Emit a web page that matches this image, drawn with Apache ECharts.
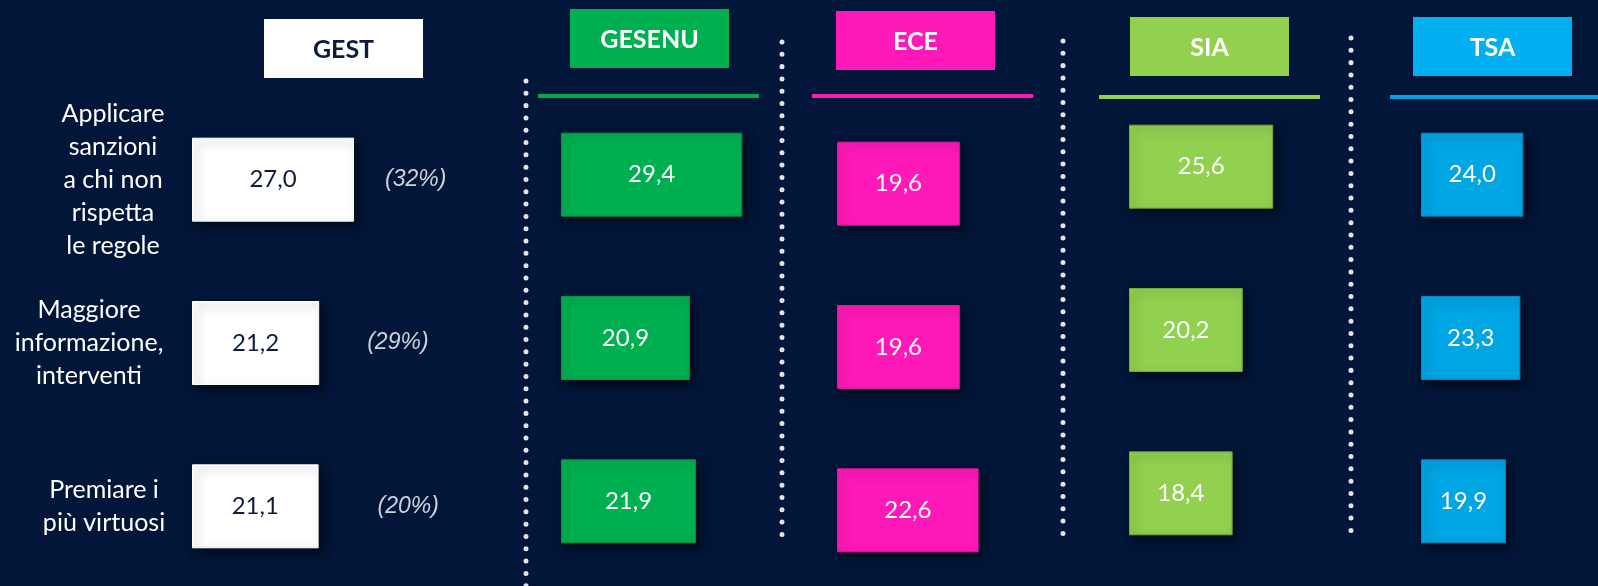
<!DOCTYPE html>
<html>
<head>
<meta charset="utf-8">
<script src="https://cdn.jsdelivr.net/npm/echarts@6/dist/echarts.min.js"></script>
<style>
  html, body { margin: 0; padding: 0; background: #011638; }
  #chart { width: 1598px; height: 586px; }
</style>
</head>
<body>
<div id="chart"></div>
<script>
// data
const categories = [
  'Applicare\nsanzioni\na chi non\nrispetta\nle regole',
  'Maggiore\ninformazione,\ninterventi',
  'Premiare i\npiù virtuosi'
];
const companies = ['GEST', 'GESENU', 'ECE', 'SIA', 'TSA'];
const gestValues = [27.0, 21.2, 21.1];
const gestShares = ['(32%)', '(29%)', '(20%)'];
const gesenuValues = [29.4, 20.9, 21.9];
const eceValues = [19.6, 19.6, 22.6];
const siaValues = [25.6, 20.2, 18.4];
const tsaValues = [24.0, 23.3, 19.9];

// layout of each panel (bar start, scale width for 0..30, band top)
const panels = [
  { values: gestValues, left: 192, width: 180, top: 98, bar: '#ffffff', border: '#ffffff', label: '#0e1b3d',
    head: { x: 264, y: 19, fill: '#ffffff', text: '#0e1b3d' } },
  { values: gesenuValues, left: 561, width: 185, top: 93, bar: '#00b050', border: '#00934a', label: '#ffffff',
    head: { x: 570, y: 9, fill: '#00b050', text: '#ffffff' }, line: { x1: 538, x2: 759, y: 96, color: '#00a84f' } },
  { values: eceValues, left: 837, width: 188, top: 102, bar: '#ff19b8', border: '#e0149f', label: '#ffffff',
    head: { x: 836, y: 11, fill: '#ff19b8', text: '#ffffff' }, line: { x1: 812, x2: 1033, y: 96, color: '#ff19b8' } },
  { values: siaValues, left: 1129, width: 169, top: 85, bar: '#92d050', border: '#6fa83c', label: '#ffffff',
    head: { x: 1130, y: 17, fill: '#92d050', text: '#ffffff' }, line: { x1: 1099, x2: 1320, y: 97, color: '#92d050' } },
  { values: tsaValues, left: 1421, width: 128, top: 93, bar: '#00a5e3', border: '#0086c0', label: '#ffffff',
    head: { x: 1413, y: 17, fill: '#00b0f0', text: '#ffffff' }, line: { x1: 1390, x2: 1598, y: 97, color: '#00a0e0' } }
];

const dotLines = [
  { x: 526, y1: 81, y2: 590 },
  { x: 782, y1: 42, y2: 545 },
  { x: 1063, y1: 41, y2: 544 },
  { x: 1351, y1: 38, y2: 541 }
];

const fmt = v => v.toFixed(1).replace('.', ',');

const grid = [], xAxis = [], yAxis = [], series = [], graphic = [];

// category labels: each block centred at its own x, anchored right of GEST bars
const labelWidths = [138, 186, 156];
const rich = {};
labelWidths.forEach((w, i) => {
  rich['c' + i] = { width: w, align: 'center', fontSize: 25, lineHeight: 33, color: '#ffffff', fontFamily: 'Lato' };
});

panels.forEach((p, i) => {
  grid.push({ left: p.left, width: p.width, top: p.top, height: 490, outerBoundsMode: 'none', containLabel: false });
  xAxis.push({ type: 'value', gridIndex: i, min: 0, max: 30, show: false });
  yAxis.push({
    type: 'category', gridIndex: i, data: categories, inverse: true,
    axisLine: { show: false }, axisTick: { show: false }, splitLine: { show: false },
    axisLabel: i === 0 ? {
      show: true, interval: 0, align: 'right', margin: 10,
      formatter: (val, idx) => val.split('\n').map(l => '{c' + idx + '|' + l + '}').join('\n'),
      rich: rich
    } : { show: false }
  });
  series.push({
    type: 'bar', xAxisIndex: i, yAxisIndex: i, data: p.values, barWidth: 84,
    itemStyle: {
      color: p.bar, borderColor: p.border, borderWidth: 1,
      shadowBlur: 10, shadowColor: 'rgba(0,0,0,0.55)', shadowOffsetX: 4, shadowOffsetY: 4
    },
    label: {
      show: true, position: 'inside', color: p.label, fontFamily: 'Lato', fontSize: 24,
      formatter: d => fmt(d.value)
    },
    silent: true
  });

  // header box
  graphic.push({
    type: 'rect', shape: { x: p.head.x, y: p.head.y, width: 159, height: 59 },
    style: { fill: p.head.fill }
  });
  graphic.push({
    type: 'text', x: p.head.x + 79.5, y: p.head.y + 31,
    style: {
      text: companies[i], fill: p.head.text, align: 'center', verticalAlign: 'middle',
      font: 'bold 25px Lato'
    }
  });
  if (p.line) {
    graphic.push({
      type: 'line', shape: { x1: p.line.x1, y1: p.line.y, x2: p.line.x2, y2: p.line.y },
      style: { stroke: p.line.color, lineWidth: 4 }
    });
  }
});

// share annotations next to GEST bars
const shareGap = [31, 48, 59];
series.push({
  type: 'scatter', xAxisIndex: 0, yAxisIndex: 0, symbolSize: 0, silent: true,
  data: gestValues.map((v, i) => ({ value: [v, i], label: { distance: shareGap[i] } })),
  label: {
    show: true, position: 'right', color: '#ffffff', fontFamily: 'Liberation Sans',
    fontStyle: 'italic', fontSize: 23,
    formatter: d => gestShares[d.dataIndex]
  }
});

dotLines.forEach(d => {
  graphic.push({
    type: 'line', shape: { x1: d.x, y1: d.y1, x2: d.x, y2: d.y2 },
    style: { stroke: '#e4e4e4', lineWidth: 5, lineDash: [0.01, 12.3], lineCap: 'round' }
  });
});

const chart = echarts.init(document.getElementById('chart'));
chart.setOption({
  backgroundColor: '#011638',
  animation: false,
  grid: grid,
  xAxis: xAxis,
  yAxis: yAxis,
  series: series,
  graphic: graphic
});
</script>
</body>
</html>
